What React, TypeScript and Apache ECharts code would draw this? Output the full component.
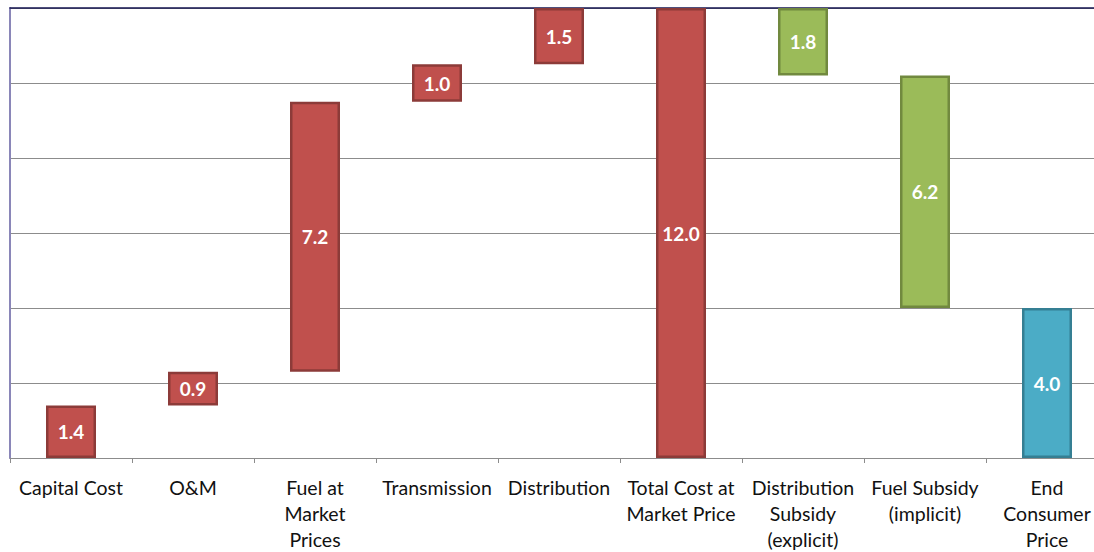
import React, { useEffect, useRef } from "react";
import * as echarts from "echarts";

const categories = [
  "Capital Cost",
  "O&M",
  "Fuel at\nMarket\nPrices",
  "Transmission",
  "Distribution",
  "Total Cost at\nMarket Price",
  "Distribution\nSubsidy\n(explicit)",
  "Fuel Subsidy\n(implicit)",
  "End\nConsumer\nPrice",
];
// step values: positive = cost added, negative = subsidy deducted, totals = full bar
const values = [1.4, 0.9, 7.2, 1.0, 1.5, 12.0, -1.8, -6.2, 4.0];
const kinds = ["cost", "cost", "cost", "cost", "cost", "total", "subsidy", "subsidy", "final"];

const COLORS: Record<string, { fill: string; border: string }> = {
  cost: { fill: "#C0504D", border: "#8C3B39" },
  total: { fill: "#C0504D", border: "#8C3B39" },
  subsidy: { fill: "#9BBB59", border: "#71893F" },
  final: { fill: "#4BACC6", border: "#357F93" },
};

export default function App() {
  const ref = useRef<HTMLDivElement>(null);
  useEffect(() => {
    if (!ref.current) return;
    const chart = echarts.init(ref.current, null, { renderer: "svg" });

    const bases: number[] = [];
    const heights: number[] = [];
    let running = 0;
    values.forEach((v, i) => {
      const k = kinds[i];
      if (k === "total" || k === "final") {
        bases.push(0);
        heights.push(v);
        running = v;
      } else if (v >= 0) {
        bases.push(running);
        heights.push(v);
        running += v;
      } else {
        running += v;
        bases.push(running);
        heights.push(-v);
      }
    });

    chart.setOption({
      animation: false,
      backgroundColor: "#ffffff",
      grid: { left: 10, right: 0, top: 8, bottom: 90, containLabel: false },
      xAxis: [
        {
          type: "category",
          data: categories,
          axisLine: { show: true, lineStyle: { color: "#8c8c8c", width: 1 } },
          axisTick: { show: true, length: 5, lineStyle: { color: "#8c8c8c" } },
          axisLabel: {
            interval: 0,
            color: "#111111",
            fontFamily: "Lato",
            fontSize: 19.5,
            lineHeight: 26,
            margin: 16,
          },
        },
        {
          type: "category",
          position: "top",
          data: categories,
          axisLine: { show: true, lineStyle: { color: "#141450", width: 1.5 } },
          axisTick: { show: false },
          axisLabel: { show: false },
        },
      ],
      yAxis: {
        type: "value",
        min: 0,
        max: 12,
        interval: 2,
        axisLabel: { show: false },
        axisTick: { show: false },
        axisLine: { show: true, lineStyle: { color: "#8a86b8", width: 2 } },
        splitLine: { show: true, lineStyle: { color: "#8c8c8c", width: 1 } },
      },
      series: [
        {
          type: "bar",
          stack: "wf",
          data: bases,
          barWidth: 50,
          itemStyle: { color: "transparent" },
          silent: true,
        },
        {
          type: "bar",
          stack: "wf",
          barWidth: 50,
          data: heights.map((h, i) => ({
            value: h,
            itemStyle: {
              color: COLORS[kinds[i]].fill,
              borderColor: COLORS[kinds[i]].border,
              borderWidth: 2.5,
            },
          })),
          label: {
            show: true,
            position: "inside",
            color: "#ffffff",
            fontFamily: "Lato",
            fontWeight: "bold",
            fontSize: 19,
            formatter: (p: any) => Math.abs(values[p.dataIndex]).toFixed(1),
          },
        },
      ],
    });
    return () => chart.dispose();
  }, []);
  return (
    <div
      ref={ref}
      style={{ position: "fixed", left: 0, top: 0, width: 1108, height: 552 }}
    />
  );
}
